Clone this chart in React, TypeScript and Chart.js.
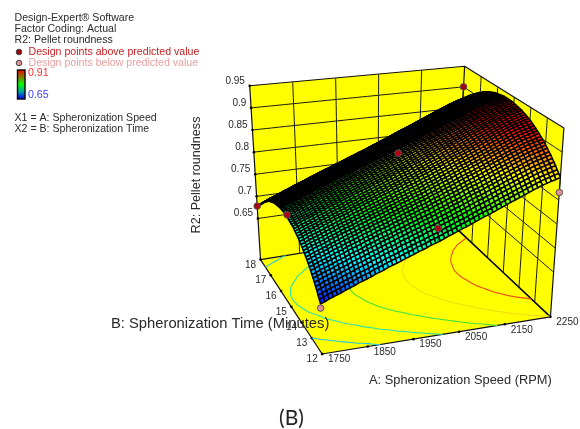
import React, { useEffect, useRef } from "react";
import { Chart, registerables } from "chart.js";

Chart.register(...registerables);

const speedTicks = [1750, 1850, 1950, 2050, 2150, 2250];
const timeTicks = [12, 13, 14, 15, 16, 17, 18];
const roundnessTicks = [0.65, 0.7, 0.75, 0.8, 0.85, 0.9, 0.95];
const roundnessLabels = ["0.65", "0.7", "0.75", "0.8", "0.85", "0.9", "0.95"];

// Height of the surface: rise along A, bow along B (56 mesh lines each)
const speedRise = [0, .003, .007, .010, .013, .016, .020, .023, .026, .030, .033, .036, .039, .043, .046, .049, .053, .056, .059, .062, .066, .069, .072, .076, .079, .082, .086, .089, .092, .096, .100, .103, .107, .111, .114, .118, .122, .126, .130, .133, .137, .141, .145, .149, .153, .157, .161, .165, .169, .173, .177, .181, .184, .187, .190, .193];
const timeBow = [.654, .660, .665, .671, .676, .681, .686, .690, .695, .699, .703, .707, .710, .714, .717, .720, .723, .726, .729, .731, .733, .735, .737, .739, .740, .741, .742, .743, .744, .7445, .745, .745, .745, .745, .744, .743, .742, .741, .740, .738, .736, .734, .731, .729, .726, .722, .719, .715, .711, .707, .703, .698, .693, .688, .683, .677];

// Design points: A, B, measured roundness
const pointsAbove = [[1750, 18, 0.678], [1750, 15, 0.749], [2000, 15, 0.852], [2000, 12, 0.772]];
const pointsBelow = [[1750, 12, 0.646], [2250, 12, 0.816]];
const pointsHidden = [[2250, 18, 0.900]];

const contourLevels = [0.7, 0.75, 0.8, 0.85, 0.9];
const contourColors = ["#22c8e0", "#30e0a8", "#44e044", "#f2de10", "#f04a18"];

const SPEED_MIN = 1750, SPEED_MAX = 2250, TIME_MIN = 12, TIME_MAX = 18, Z_MIN = 0.557, Z_MAX = 0.95;
// Where the eight corners of the plot box fall: [floor, top] per (A,B) corner
const BOX = {
  lowLow: [[322.7, 357.3], [316, 150]],
  highLow: [[555, 319.3], [568.7, 126]],
  lowHigh: [[260, 260.7], [249, 82.7]],
  highHigh: [[459, 228.5], [467.7, 62.7]],
};
const CURVE = 0.0001; // keeps Chart.js off its x-sorted fast path

function project(a: number, b: number, z: number) {
  const u = (a - SPEED_MIN) / (SPEED_MAX - SPEED_MIN);
  const v = (b - TIME_MIN) / (TIME_MAX - TIME_MIN);
  const w = (z - Z_MIN) / (Z_MAX - Z_MIN);
  const at = (k: 0 | 1, lvl: 0 | 1) =>
    (1 - u) * (1 - v) * BOX.lowLow[lvl][k] + u * (1 - v) * BOX.highLow[lvl][k] +
    (1 - u) * v * BOX.lowHigh[lvl][k] + u * v * BOX.highHigh[lvl][k];
  return { x: at(0, 0) * (1 - w) + at(0, 1) * w, y: at(1, 0) * (1 - w) + at(1, 1) * w };
}

const n = speedRise.length;
const speedAt = (i: number) => SPEED_MIN + (i * (SPEED_MAX - SPEED_MIN)) / (n - 1);
const timeAt = (j: number) => TIME_MIN + (j * (TIME_MAX - TIME_MIN)) / (n - 1);
const surfaceZ = (i: number, j: number) => speedRise[i] + timeBow[j];

function heightColor(z: number) {
  const stops = [[0.65, 0, 0, 255], [0.715, 0, 255, 255], [0.78, 0, 255, 0], [0.845, 255, 255, 0], [0.91, 255, 0, 0]];
  if (z <= stops[0][0]) return "rgb(0,0,255)";
  for (let s = 1; s < stops.length; s++) {
    if (z <= stops[s][0]) {
      const t = (z - stops[s - 1][0]) / (stops[s][0] - stops[s - 1][0]);
      const c = [1, 2, 3].map((k) => Math.round(stops[s - 1][k] + t * (stops[s][k] - stops[s - 1][k])));
      return `rgb(${c[0]},${c[1]},${c[2]})`;
    }
  }
  return "rgb(255,0,0)";
}

const line = (data: any[], color: string, width: number) => ({
  type: "scatter", data, showLine: true, pointRadius: 0, borderColor: color, borderWidth: width, fill: false, tension: CURVE,
});
const panel = (data: any[]) => ({
  type: "scatter", data: [...data, data[0]], showLine: true, pointRadius: 0, borderWidth: 0, borderColor: "#ffff00",
  backgroundColor: "#ffff00", fill: "shape", tension: CURVE,
});
const dots = (rows: number[][], color: string) => ({
  type: "scatter", data: rows.map((p) => project(p[0], p[1], p[2])), showLine: false, pointRadius: 3.3,
  pointBackgroundColor: color, pointBorderColor: "#555", pointBorderWidth: 1,
});
const nearest = (a: number, b: number) => surfaceZ(
  Math.round(((a - SPEED_MIN) / (SPEED_MAX - SPEED_MIN)) * (n - 1)),
  Math.round(((b - TIME_MIN) / (TIME_MAX - TIME_MIN)) * (n - 1)));
const stem = (rows: number[][]) =>
  line(rows.flatMap((p) => [project(p[0], p[1], p[2]), project(p[0], p[1], nearest(p[0], p[1])), { x: NaN, y: NaN }]), "#111", 1);

function contourSegments(level: number) {
  const out: any[] = [];
  const cross = (a: number, b: number, za: number, zb: number, c: number, d: number) => {
    const t = (level - za) / (zb - za);
    return [a + t * (b - a), c + t * (d - c)];
  };
  for (let i = 0; i < n - 1; i++) for (let j = 0; j < n - 1; j++) {
    const a0 = speedAt(i), a1 = speedAt(i + 1), b0 = timeAt(j), b1 = timeAt(j + 1);
    const z00 = surfaceZ(i, j), z10 = surfaceZ(i + 1, j), z01 = surfaceZ(i, j + 1), z11 = surfaceZ(i + 1, j + 1);
    const hits: number[][] = [];
    if ((z00 < level) !== (z10 < level)) hits.push(cross(a0, a1, z00, z10, b0, b0));
    if ((z10 < level) !== (z11 < level)) hits.push(cross(a1, a1, z10, z11, b0, b1));
    if ((z01 < level) !== (z11 < level)) hits.push(cross(a0, a1, z01, z11, b1, b1));
    if ((z00 < level) !== (z01 < level)) hits.push(cross(a0, a0, z00, z01, b0, b1));
    if (hits.length >= 2) {
      out.push(project(hits[0][0], hits[0][1], Z_MIN), project(hits[1][0], hits[1][1], Z_MIN), { x: NaN, y: NaN });
    }
  }
  return out;
}

function buildDatasets() {
  const ds: any[] = [];
  // Floor and the two walls
  ds.push(panel([project(SPEED_MIN, TIME_MIN, Z_MIN), project(SPEED_MAX, TIME_MIN, Z_MIN), project(SPEED_MAX, TIME_MAX, Z_MIN), project(SPEED_MIN, TIME_MAX, Z_MIN)]));
  ds.push(panel([project(SPEED_MIN, TIME_MAX, Z_MIN), project(SPEED_MAX, TIME_MAX, Z_MIN), project(SPEED_MAX, TIME_MAX, Z_MAX), project(SPEED_MIN, TIME_MAX, Z_MAX)]));
  ds.push(panel([project(SPEED_MAX, TIME_MIN, Z_MIN), project(SPEED_MAX, TIME_MAX, Z_MIN), project(SPEED_MAX, TIME_MAX, Z_MAX), project(SPEED_MAX, TIME_MIN, Z_MAX)]));
  // Wall grid
  for (const a of speedTicks.slice(1, -1)) ds.push(line([project(a, TIME_MAX, Z_MIN), project(a, TIME_MAX, Z_MAX)], "#1a1a1a", 1));
  for (const b of timeTicks.slice(1, -1)) ds.push(line([project(SPEED_MAX, b, Z_MIN), project(SPEED_MAX, b, Z_MAX)], "#1a1a1a", 1));
  for (const z of roundnessTicks.slice(0, -1)) {
    ds.push(line([project(SPEED_MIN, TIME_MAX, z), project(SPEED_MAX, TIME_MAX, z), project(SPEED_MAX, TIME_MIN, z)], "#1a1a1a", 1));
  }
  // Box edges
  ds.push(line([project(SPEED_MIN, TIME_MIN, Z_MIN), project(SPEED_MIN, TIME_MAX, Z_MIN), project(SPEED_MIN, TIME_MAX, Z_MAX), project(SPEED_MAX, TIME_MAX, Z_MAX), project(SPEED_MAX, TIME_MIN, Z_MAX), project(SPEED_MAX, TIME_MIN, Z_MIN), project(SPEED_MIN, TIME_MIN, Z_MIN)], "#111", 1.2));
  ds.push(line([project(SPEED_MIN, TIME_MAX, Z_MIN), project(SPEED_MAX, TIME_MAX, Z_MIN)], "#111", 1.2));
  ds.push(line([project(SPEED_MAX, TIME_MAX, Z_MIN), project(SPEED_MAX, TIME_MIN, Z_MIN)], "#000", 1.6));
  ds.push(line([project(SPEED_MAX, TIME_MAX, Z_MIN), project(SPEED_MAX, TIME_MAX, Z_MAX)], "#111", 1.2));
  // Axis tick marks
  const tickDot = (data: any[]) => ({ type: "scatter", data, showLine: false, pointRadius: 1.3, pointBackgroundColor: "#000", pointBorderWidth: 0 });
  ds.push(tickDot(speedTicks.map((a) => project(a, TIME_MIN, Z_MIN))));
  ds.push(tickDot(timeTicks.map((b) => project(SPEED_MIN, b, Z_MIN))));
  ds.push(tickDot(roundnessTicks.map((z) => project(SPEED_MIN, TIME_MAX, z))));
  // Contours on the floor
  contourLevels.forEach((lv, k) => ds.push(line(contourSegments(lv), contourColors[k], 1.1)));
  // Design point behind the ridge
  ds.push(stem(pointsHidden));
  ds.push(dots(pointsHidden, "#b00010"));
  // Surface mesh, far cells first
  for (let j = n - 2; j >= 0; j--) for (let i = n - 2; i >= 0; i--) {
    const zc = (surfaceZ(i, j) + surfaceZ(i + 1, j) + surfaceZ(i, j + 1) + surfaceZ(i + 1, j + 1)) / 4;
    const p = [project(speedAt(i), timeAt(j), surfaceZ(i, j)), project(speedAt(i + 1), timeAt(j), surfaceZ(i + 1, j)), project(speedAt(i + 1), timeAt(j + 1), surfaceZ(i + 1, j + 1)), project(speedAt(i), timeAt(j + 1), surfaceZ(i, j + 1))];
    ds.push({ type: "scatter", data: [...p, p[0]], showLine: true, pointRadius: 0, borderColor: "#000", borderWidth: 1.5, backgroundColor: heightColor(zc), fill: "shape", tension: CURVE });
  }
  // Remaining design points
  ds.push(stem([...pointsAbove, ...pointsBelow]));
  ds.push(dots(pointsAbove, "#b00010"));
  ds.push(dots(pointsBelow, "#e09090"));
  return ds.reverse(); // Chart.js paints the last dataset first
}

const FONT = '"Liberation Sans", Arial, sans-serif';
const INK = "#2a2a2a";

const labelsPlugin = {
  id: "plotText",
  afterDatasetsDraw(chart: any) {
    const ctx = chart.ctx as CanvasRenderingContext2D;
    const sx = chart.scales.x, sy = chart.scales.y;
    const text = (s: string, x: number, y: number, font: string, color: string, align: CanvasTextAlign = "left") => {
      ctx.font = font; ctx.fillStyle = color; ctx.textAlign = align; ctx.textBaseline = "middle"; ctx.fillText(s, x, y);
    };
    ctx.save();
    const tf = `10px ${FONT}`;
    const lf = `10.6px ${FONT}`;
    speedTicks.forEach((a) => {
      const p = project(a, TIME_MIN, Z_MIN);
      text(String(a), sx.getPixelForValue(p.x) + 17, sy.getPixelForValue(p.y) + 5.5, tf, INK, "center");
    });
    timeTicks.forEach((b) => {
      const p = project(SPEED_MIN, b, Z_MIN);
      text(String(b), sx.getPixelForValue(p.x) - 10, sy.getPixelForValue(p.y) + 5.2, tf, INK, "center");
    });
    roundnessTicks.forEach((z, i) => {
      const p = project(SPEED_MIN, TIME_MAX, z);
      text(roundnessLabels[i], sx.getPixelForValue(p.x) - 4.8, sy.getPixelForValue(p.y) - 5, tf, INK, "right");
    });
    // Legend block
    text("Design-Expert® Software", 14.5, 18.5, lf, INK);
    text("Factor Coding: Actual", 14.5, 29.5, lf, INK);
    text("R2: Pellet roundness", 14.5, 40.5, lf, INK);
    text("Design points above predicted value", 28.5, 52, lf, "#c82020");
    text("Design points below predicted value", 28.5, 63, lf, "#e8a0a0");
    text("0.91", 28, 73.5, lf, "#ff3030");
    text("0.65", 28, 95.5, lf, "#4040ff");
    text("X1 = A: Spheronization Speed", 14.5, 118, lf, INK);
    text("X2 = B: Spheronization Time", 14.5, 129, lf, INK);
    const g = ctx.createLinearGradient(0, 70, 0, 99);
    ["#ff0000", "#808000", "#00ff00", "#00a0a0", "#0000ff"].forEach((c, i) => g.addColorStop(i / 4, c));
    ctx.fillStyle = g; ctx.fillRect(17.5, 70, 7.5, 29);
    ctx.strokeStyle = "#000"; ctx.lineWidth = 1.4; ctx.strokeRect(17.5, 70, 7.5, 29);
    ctx.lineWidth = 1;
    [[19, 52, "#a00010"], [19, 63, "#e09090"]].forEach(([x, y, c]) => {
      ctx.beginPath(); ctx.arc(x as number, y as number, 2.8, 0, Math.PI * 2);
      ctx.fillStyle = c as string; ctx.fill(); ctx.strokeStyle = "#444"; ctx.stroke();
    });
    // Axis titles and caption
    text("A: Spheronization Speed (RPM)", 369, 380, `12.85px ${FONT}`, INK);
    text("B: Spheronization Time (Minutes)", 111, 324, `14.75px ${FONT}`, INK);
    ctx.save(); ctx.translate(197, 175); ctx.rotate(-Math.PI / 2);
    text("R2: Pellet roundness", 0, 0, `12.6px ${FONT}`, INK, "center");
    ctx.restore();
    text("(B)", 291.5, 418, `21px Lato, "Open Sans", sans-serif`, "#222", "center");
    ctx.restore();
  },
};

export default function App() {
  const ref = useRef<HTMLCanvasElement>(null);
  useEffect(() => {
    const chart = new Chart(ref.current as HTMLCanvasElement, {
      type: "scatter",
      data: { datasets: buildDatasets() } as any,
      options: {
        animation: false,
        responsive: false,
        devicePixelRatio: 1,
        events: [],
        layout: { padding: 0 },
        elements: { line: { borderJoinStyle: "round" } },
        scales: {
          x: { type: "linear", min: 0, max: 580, display: false },
          y: { type: "linear", min: 0, max: 429, reverse: true, display: false },
        },
        plugins: { legend: { display: false }, tooltip: { enabled: false }, title: { display: false } },
      } as any,
      plugins: [labelsPlugin as any],
    });
    return () => chart.destroy();
  }, []);
  return (
    <div style={{ position: "absolute", left: 0, top: 0, width: 580, height: 429, background: "#fff" }}>
      <canvas ref={ref} width={580} height={429} style={{ display: "block" }} />
    </div>
  );
}
